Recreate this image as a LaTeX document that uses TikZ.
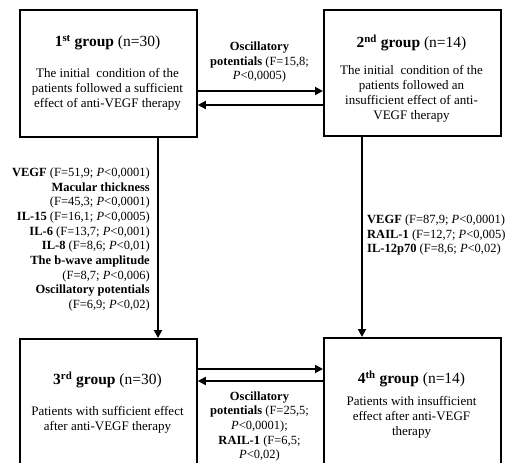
\documentclass[tikz,border=0pt]{standalone}
\usepackage{fontspec}
\setmainfont{Liberation Serif}
\usetikzlibrary{arrows.meta}
\begin{document}
\begin{tikzpicture}[x=1pt,y=-1pt,
  grpbox/.style={draw, line width=1.8pt, minimum width=177pt, inner sep=0pt, anchor=north west},
  grptitle/.style={font=\fontsize{15.5}{18}\selectfont, inner sep=0pt},
  grpbody/.style={font=\fontsize{13}{15}\selectfont, align=center, inner sep=0pt},
  lbl/.style={font=\fontsize{12.5}{14.7}\selectfont, inner sep=0pt},
  arr/.style={line width=1.8pt, -{Triangle[length=8pt,width=8pt]}}]
\useasboundingbox (0,0) rectangle (510,462);
% boxes
\node[grpbox, minimum height=127pt] (g1) at (19,9) {};
\node[grpbox, minimum height=126pt] (g2) at (323,9) {};
\node[grpbox, minimum height=140pt] (g3) at (19,338) {};
\node[grpbox, minimum height=141pt] (g4) at (323,337) {};
% texts in boxes
\node[grptitle] (t1) at (107.5,43) {\textbf{1\textsuperscript{st} group} (n=30)};
\node[grpbody] (b1) at (107.5,89) {The initial\ \ condition of the\\patients followed a sufficient\\effect of anti-VEGF therapy};
\node[grptitle] (t2) at (411.5,43) {\textbf{2\textsuperscript{nd} group} (n=14)};
\node[grpbody] (b2) at (411.5,94) {The initial\ \ condition of the\\patients followed an\\insufficient effect of anti-\\VEGF therapy};
\node[grptitle] (t3) at (107.5,380) {\textbf{3\textsuperscript{rd} group} (n=30)};
\node[grpbody] (b3) at (107.5,420) {Patients with sufficient effect\\after anti-VEGF therapy};
\node[grptitle] (t4) at (411.5,379) {\textbf{4\textsuperscript{th} group} (n=14)};
\node[grpbody] (b4) at (411.5,417) {Patients with insufficient\\effect after anti-VEGF\\therapy};
% connector positions
\coordinate (ya) at (0,91);
\coordinate (yb) at (0,105);
\coordinate (yc) at (0,369);
\coordinate (yd) at (0,381);
\coordinate (xl) at (158,0);
\coordinate (xr) at (362,0);
% connectors
\draw[arr] (g1.east |- ya) -- (g2.west |- ya);
\draw[arr] (g2.west |- yb) -- (g1.east |- yb);
\draw[arr] (g3.east |- yc) -- (g4.west |- yc);
\draw[arr] (g4.west |- yd) -- (g3.east |- yd);
\draw[arr] (g1.south -| xl) -- (g3.north -| xl);
\draw[arr] (g2.south -| xr) -- (g4.north -| xr);
% labels
\node[lbl, align=center] (l12) at (259.5,62) {\textbf{Oscillatory}\\\textbf{potentials} (F=15,8;\\\textit{P}<0,0005)};
\node[lbl, align=right, anchor=east] (l13) at (150,239.5) {\textbf{VEGF} (F=51,9; \textit{P}<0,0001)\\\textbf{Macular thickness}\\(F=45,3; \textit{P}<0,0001)\\\textbf{IL-15} (F=16,1; \textit{P}<0,0005)\\\textbf{IL-6} (F=13,7; \textit{P}<0,001)\\\textbf{IL-8} (F=8,6; \textit{P}<0,01)\\\textbf{The b-wave amplitude}\\(F=8,7; \textit{P}<0,006)\\\textbf{Oscillatory potentials}\\(F=6,9; \textit{P}<0,02)};
\node[lbl, align=left, anchor=west] (l24) at (367,235) {\textbf{VEGF} (F=87,9; \textit{P}<0,0001)\\\textbf{RAIL-1} (F=12,7; \textit{P}<0,005)\\\textbf{IL-12p70} (F=8,6; \textit{P}<0,02)};
\node[lbl, align=center] (l34) at (259.5,426.5) {\textbf{Oscillatory}\\\textbf{potentials} (F=25,5;\\\textit{P}<0,0001);\\\textbf{RAIL-1} (F=6,5;\\\textit{P}<0,02)};
\end{tikzpicture}
\end{document}
